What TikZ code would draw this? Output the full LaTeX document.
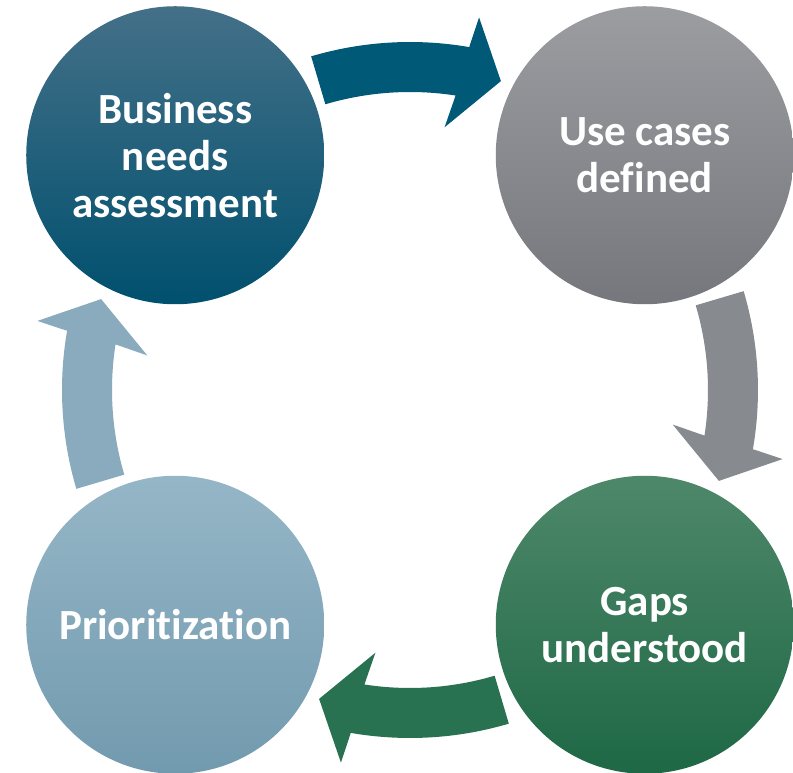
\documentclass[tikz,border=0pt]{standalone}
\usepackage{fontspec}
\setmainfont[Ligatures=NoCommon]{Carlito}
\usepackage{tikz}

\definecolor{tealtop}{RGB}{68,112,136}
\definecolor{tealbot}{RGB}{0,80,110}
\definecolor{tealarr}{RGB}{0,89,119}
\definecolor{graytop}{RGB}{155,157,161}
\definecolor{graybot}{RGB}{117,119,124}
\definecolor{grayarr}{RGB}{135,138,143}
\definecolor{greentop}{RGB}{78,136,106}
\definecolor{greenbot}{RGB}{30,104,70}
\definecolor{greenarr}{RGB}{41,114,81}
\definecolor{bluetop}{RGB}{149,182,199}
\definecolor{bluebot}{RGB}{114,154,174}
\definecolor{bluearr}{RGB}{137,171,189}

\begin{document}
\begin{tikzpicture}[x=1pt,y=1pt,
	stage/.style={circle,minimum size=298pt,inner sep=0pt,text=white,
		font=\bfseries\fontsize{43}{47}\selectfont,align=center}]
		\useasboundingbox (-410,-383) rectangle (383,390);
		% the four stages
		\node[stage,top color=tealtop,bottom color=tealbot] (business) at (135:332) {Business\\needs\\assessment};
		\node[stage,top color=graytop,bottom color=graybot] (usecases) at (45:332) {Use cases\\defined};
		\node[stage,top color=greentop,bottom color=greenbot] (gaps) at (-45:332) {Gaps\\understood};
		\node[stage,top color=bluetop,bottom color=bluebot] (prio) at (-135:332) {Prioritization};
		% curved block arrows, clockwise
		\foreach \a/\col in {90/tealarr,0/grayarr,-90/greenarr,180/bluearr}{
			\fill[\col] ({\a+16.5}:348) arc[start angle=\a+16.5,end angle=\a-9.8,radius=348]
				-- ({\a-10.5}:379) -- ({\a-16.4}:322) -- ({\a-7.5}:265) -- ({\a-8.8}:298)
				arc[start angle=\a-8.8,end angle=\a+16.5,radius=298] -- cycle;
		}
	\end{tikzpicture}
\end{document}
